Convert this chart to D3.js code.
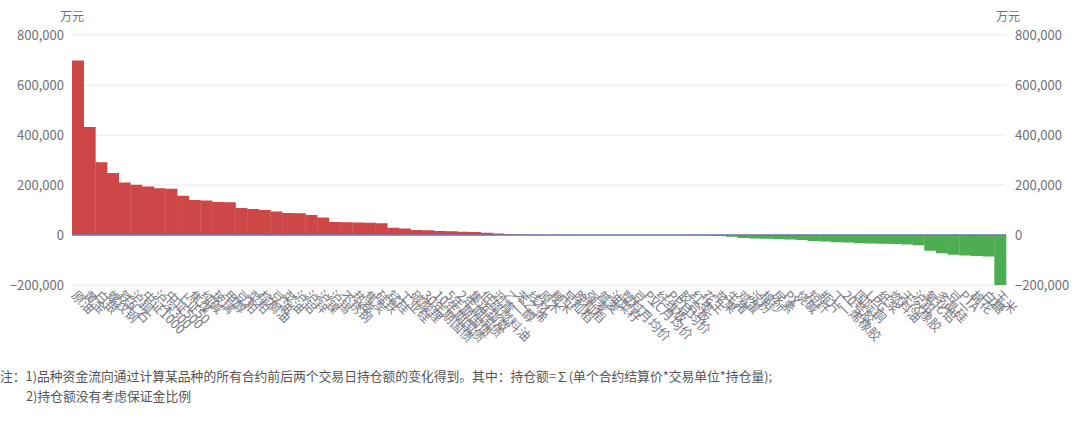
<!DOCTYPE html>
<html>
<head>
<meta charset="utf-8">
<script src="https://cdn.jsdelivr.net/npm/d3@7"></script>
<style>
  body { margin: 0; background: #fff; }
  svg text { font-family: "Noto Sans CJK SC", "Microsoft YaHei", sans-serif; }
</style>
</head>
<body>
<div id="chart"></div>
<script>
// 品种
const names = ["原油","黄金","白银","螺纹钢","铁矿石","沪铜","中证1000","沪深300","中证500","上证50",
  "焦煤","纯碱","玻璃","甲醇","豆粕","菜粕","棕榈油","豆油","菜油","沪铝",
  "沪锌","沪镍","沪锡","不锈钢","热卷","焦炭","硅铁","锰硅","工业硅","碳酸锂",
  "30年期国债","10年期国债","5年期国债","2年期国债","集运指数","低硫燃料油","沥青","乙二醇","苯乙烯","线材",
  "原木","粳米","早籼稻","晚籼稻","强麦","普麦","油菜籽","塑料月均价","豆二","PVC月均价",
  "纤维板","PP月均价","胶合板","红枣","花生","苹果","生猪","鸡蛋","淀粉","棉纱",
  "尿素","PX","烧碱","短纤","瓶片","丁二烯橡胶","20号胶","国际铜","LPG","纸浆",
  "燃料油","天然橡胶","沪铅","氧化铝","多晶硅","豆一","PTA","棉花","白糖","玉米"];

// 资金流向(万元)
const flows = [698000, 432000, 291000, 248000, 210000, 201000, 194000, 187000, 185000, 157000,
  140000, 138000, 132000, 131000, 108000, 104000, 100000, 94000, 88000, 87000,
  80000, 70000, 52000, 51000, 50000, 49000, 47000, 29000, 26000, 20000,
  19000, 16000, 15000, 13000, 12000, 9000, 6000, 3000, 1500, 800,
  500, 400, 300, 200, 150, 100, 80, 50, 20, 0,
  -50, -150, -400, -900, -2500, -4000, -7000, -12000, -14000, -15000,
  -17000, -18000, -20000, -24000, -26000, -29000, -30000, -33000, -34000, -35000,
  -36000, -38000, -41000, -63000, -73000, -79000, -82000, -84000, -86000, -200000];

const yTicks = [-200000, 0, 200000, 400000, 600000, 800000];

const note1 = "注：1)品种资金流向通过计算某品种的所有合约前后两个交易日持仓额的变化得到。其中：持仓额=∑(单个合约结算价*交易单位*持仓量);";
const note2 = "2)持仓额没有考虑保证金比例";

const W = 1080, H = 425;
const margin = { top: 35, left: 72, right: 74, bottom: 140 };
const width = W - margin.left - margin.right,
      height = H - margin.top - margin.bottom;

const svg = d3.select("#chart").append("svg")
  .attr("width", W).attr("height", H);

const g = svg.append("g")
  .attr("transform", "translate(" + margin.left + "," + margin.top + ")");

const x = d3.scaleBand().domain(names).range([0, width]).padding(0);
const y = d3.scaleLinear().domain([-200000, 800000]).range([height, 0]);

// grid
g.append("g").selectAll("line")
  .data(yTicks)
  .join("line")
  .attr("x1", 0).attr("x2", width)
  .attr("y1", d => y(d)).attr("y2", d => y(d))
  .attr("stroke", "#e6e8f4").attr("stroke-width", 1);

// bars
g.append("g").selectAll("rect")
  .data(flows)
  .join("rect")
  .attr("x", (d, i) => x(names[i]))
  .attr("width", x.bandwidth() + 0.3)
  .attr("y", d => y(Math.max(0, d)))
  .attr("height", d => Math.abs(y(d) - y(0)))
  .attr("fill", d => d >= 0 ? "#cd4747" : "#4cae50");

// zero line
g.append("line")
  .attr("x1", 0).attr("x2", width)
  .attr("y1", y(0)).attr("y2", y(0))
  .attr("stroke", "#6c74ac").attr("stroke-width", 1.5);

const fmt = d3.format(",");

// left / right axes
const axisL = d3.axisLeft(y).tickValues(yTicks).tickFormat(fmt).tickSize(0).tickPadding(8);
const axisR = d3.axisRight(y).tickValues(yTicks).tickFormat(fmt).tickSize(0).tickPadding(9);

[g.append("g").call(axisL),
 g.append("g").attr("transform", "translate(" + width + ",0)").call(axisR)]
  .forEach(a => {
    a.select(".domain").remove();
    a.selectAll("text").attr("fill", "#6e7079").style("font-size", "13px");
  });

g.append("text").attr("x", 0).attr("y", -14)
  .attr("text-anchor", "middle").attr("fill", "#6e7079")
  .style("font-size", "12px").text("万元");
g.append("text").attr("x", width + 2).attr("y", -14)
  .attr("text-anchor", "middle").attr("fill", "#6e7079")
  .style("font-size", "12px").text("万元");

// category labels, rotated
g.append("g").selectAll("text")
  .data(names)
  .join("text")
  .attr("transform", d => "translate(" + (x(d) + x.bandwidth() / 2 - 4) + "," + (height + 8) + ") rotate(45)")
  .attr("dy", "0.35em")
  .attr("fill", "#7a7c86")
  .style("font-size", "13px")
  .text(d => d);

// notes
svg.append("text").attr("x", 0).attr("y", 381)
  .attr("fill", "#555").style("font-size", "12.8px").text(note1);
svg.append("text").attr("x", 26).attr("y", 401)
  .attr("fill", "#555").style("font-size", "12.8px").text(note2);
</script>
</body>
</html>
